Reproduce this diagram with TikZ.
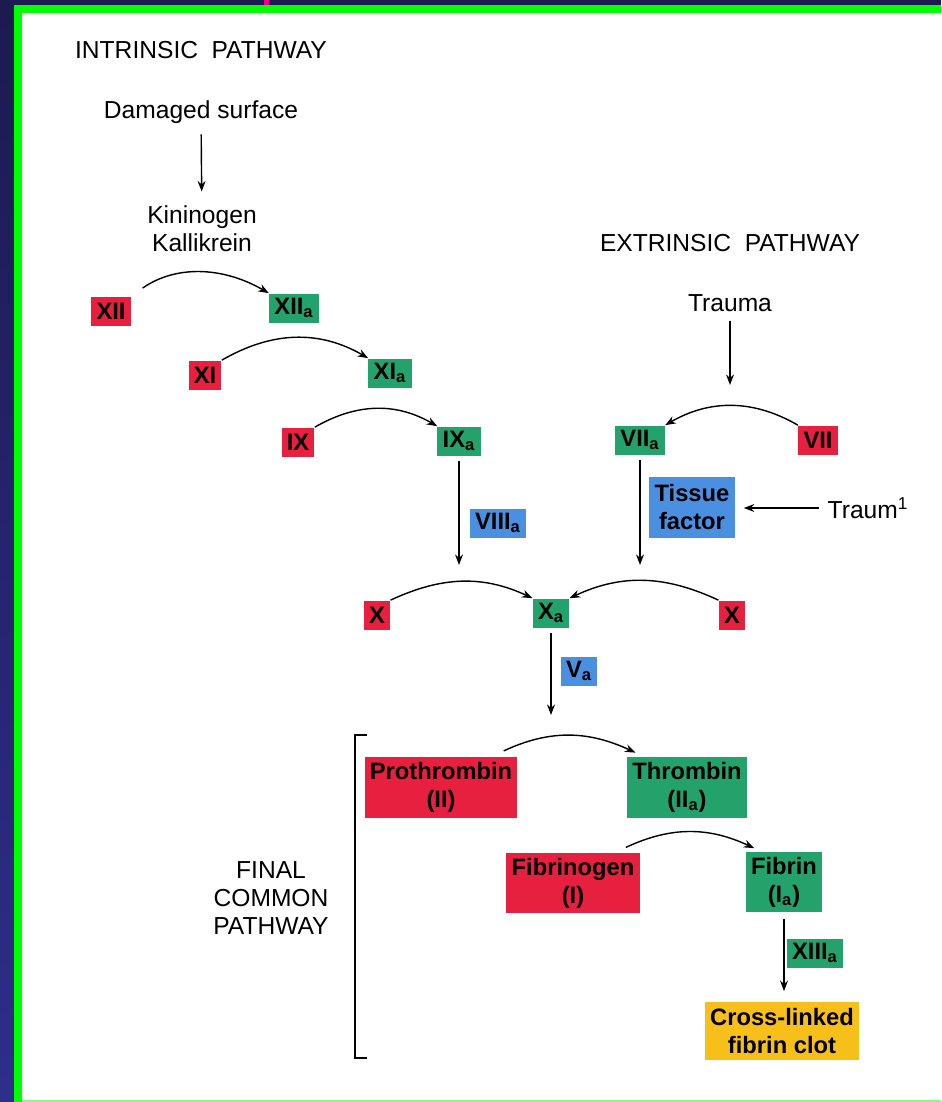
\documentclass[tikz,border=0pt]{standalone}
\usepackage{fontspec}
\setmainfont{Liberation Sans}
\usepackage{tikz}
\usetikzlibrary{arrows.meta, positioning}

\definecolor{navy}{HTML}{1C1A50}
\definecolor{navyb}{HTML}{2E2E8C}
\definecolor{frame}{HTML}{00FF00}
\definecolor{fred}{HTML}{E8203F}
\definecolor{fgreen}{HTML}{23A36B}
\definecolor{fblue}{HTML}{4A8FE0}
\definecolor{fyellow}{HTML}{F7BF1A}

\begin{document}
\begin{tikzpicture}[x=0.02cm, y=-0.02cm,
		txt/.style={font=\fontsize{14}{16}\selectfont, align=center, inner sep=1pt},
		factor/.style={font=\fontsize{13.5}{16}\selectfont\bfseries, align=center, inner xsep=3pt, inner ysep=1pt, minimum height=0.58cm},
		redf/.style={factor, fill=fred},
		greenf/.style={factor, fill=fgreen},
		bluef/.style={factor, fill=fblue},
		yellowf/.style={factor, fill=fyellow},
		arr/.style={-{Stealth[length=6pt, width=4.5pt]}, line width=0.8pt}]
			% Background and frame:
			\useasboundingbox (0,0) rectangle (941,1102);
			\fill[navy] (0,0) rectangle (941,1102);
			\shade[top color=navy, bottom color=navyb] (0,0) rectangle (14,1102);
			\fill[frame] (14,5) rectangle (941,1102);
			\fill[white] (22,13) rectangle (941,1100);
			\fill[frame!50] (22,1100) rectangle (941,1102);
			\fill[magenta] (264,0) rectangle (269,5);
			% Intrinsic pathway:
			\node[txt] (intr) at (201,50) {INTRINSIC\hspace{0.55em}PATHWAY};
			\node[txt] (dam) at (201,112) {Damaged surface};
			\node[txt] (kin) at (202,229) {Kininogen\\Kallikrein};
			\node[redf] (xii) at (111,311) {XII};
			\node[greenf] (xiia) at (294,308) {XII\textsubscript{a}};
			\node[redf] (xi) at (205,375) {XI};
			\node[greenf] (xia) at (390,373) {XI\textsubscript{a}};
			\node[redf] (ix) at (298,442) {IX};
			\node[greenf] (ixa) at (459,441) {IX\textsubscript{a}};
			\node[bluef] (viiia) at (498,523) {VIII\textsubscript{a}};
			% Extrinsic pathway:
			\node[txt] (extr) at (730,243) {EXTRINSIC\hspace{0.55em}PATHWAY};
			\node[txt] (trauma) at (730,303) {Trauma};
			\node[greenf] (viia) at (640,440) {VII\textsubscript{a}};
			\node[redf] (vii) at (818,440) {VII};
			\node[bluef, minimum width=1.6cm, minimum height=1.22cm] (tf) at (692,507) {Tissue\\factor};
			\node[txt] (traum) at (868,508) {Traum\textsuperscript{1}};
			% Factor X:
			\node[redf] (xl) at (377,615) {X};
			\node[greenf] (xa) at (551,613) {X\textsubscript{a}};
			\node[redf] (xr) at (732,615) {X};
			\node[bluef] (va) at (579,671) {V\textsubscript{a}};
			% Final common pathway:
			\node[txt] (fcp) at (271,898) {FINAL\\COMMON\\PATHWAY};
			\node[redf, minimum width=3.02cm, minimum height=1.22cm] (pro) at (441,787) {Prothrombin\\(II)};
			\node[greenf, minimum width=2.4cm, minimum height=1.22cm] (thr) at (687,787) {Thrombin\\(II\textsubscript{a})};
			\node[redf, minimum width=2.6cm, minimum height=1.2cm] (fgn) at (573,883) {Fibrinogen\\(I)};
			\node[greenf, minimum width=1.44cm, minimum height=1.2cm] (fbn) at (784,882) {Fibrin\\(I\textsubscript{a})};
			\node[greenf] (xiiia) at (815,953) {XIII\textsubscript{a}};
			\node[yellowf, minimum width=3cm, minimum height=1.16cm] (clot) at (782,1031) {Cross-linked\\fibrin clot};
			\coordinate (traumaend) at (730,385);
			\coordinate (ixaend) at (459,565);
			\coordinate (viiaend) at (640,565);
			\coordinate (xaend) at (551,715);
			% Connectors:
			\draw[arr, shorten <=5pt, shorten >=7pt] (dam) -- (kin);
			\draw[arr, shorten <=8pt] (xii.north east) to[out=35, in=150] (xiia.north west);
			\draw[arr] (xi.north east) to[out=30, in=150] (xia.north west);
			\draw[arr] (ix.north east) to[out=30, in=150] (ixa.north west);
			\draw[arr, shorten <=3pt] (ixa.south) -- (ixaend);
			\draw[arr, shorten <=4pt] (trauma.south) -- (traumaend);
			\draw[arr] (vii.north west) to[out=150, in=30] (viia.north east);
			\draw[arr, shorten <=3pt] (viia.south) -- (viiaend);
			\draw[arr, shorten <=4pt, shorten >=5pt] (traum.west) -- (traum.west -| tf.east);
			\draw[arr] (xl.north east) to[out=25, in=155] (xa.north west);
			\draw[arr] (xr.north west) to[out=155, in=25] (xa.north east);
			\draw[arr, shorten <=3pt] (xa.south) -- (xaend);
			\draw[arr] ([xshift=-8pt, yshift=3pt]pro.north east) to[out=25, in=155] ([xshift=5pt, yshift=2pt]thr.north west);
			\draw[arr] ([xshift=-8pt, yshift=3pt]fgn.north east) to[out=25, in=155] ([xshift=5pt, yshift=2pt]fbn.north west);
			\draw[arr, shorten <=4pt, shorten >=6pt] (fbn.south) -- (fbn.south |- clot.north);
			\draw[line width=0.8pt] (367,735) -- (355,735) -- (355,1058) -- (367,1058);
		\end{tikzpicture}
\end{document}
